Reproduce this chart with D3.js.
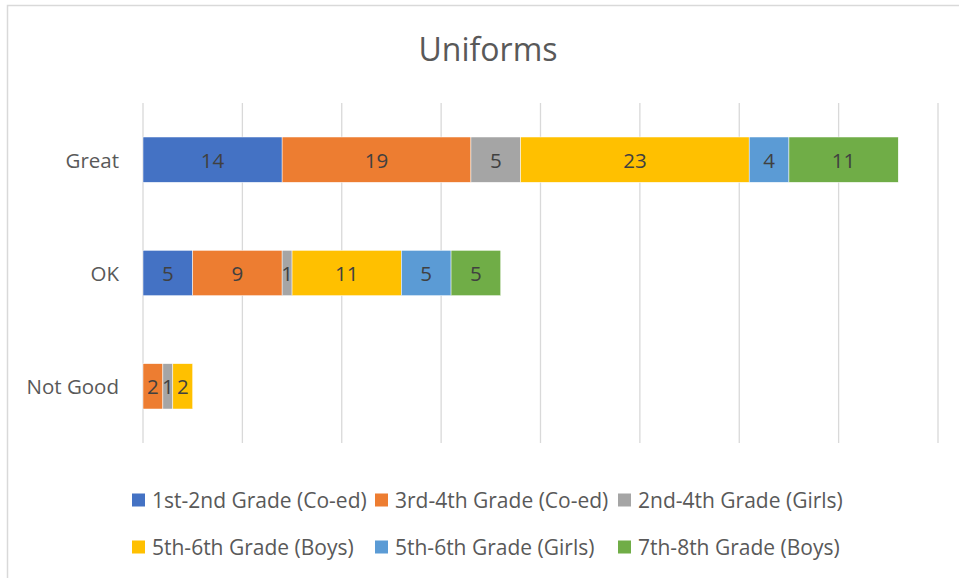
<!DOCTYPE html>
<html>
<head>
<meta charset="utf-8">
<script src="https://d3js.org/d3.v7.min.js"></script>
<style>
  body { margin: 0; background: #fff; }
  text { font-family: "Open Sans", "DejaVu Sans", sans-serif; }
</style>
</head>
<body>
<div id="chart"></div>
<script>
// chart data
var categories = ["Great", "OK", "Not Good"]
var seriesNames = ["1st-2nd Grade (Co-ed)", "3rd-4th Grade (Co-ed)", "2nd-4th Grade (Girls)",
  "5th-6th Grade (Boys)", "5th-6th Grade (Girls)", "7th-8th Grade (Boys)"]
var coed12 = [14, 5, 0]
var coed34 = [19, 9, 2]
var girls24 = [5, 1, 1]
var boys56 = [23, 11, 2]
var girls56 = [4, 5, 0]
var boys78 = [11, 5, 0]
var xTicks = [0, 10, 20, 30, 40, 50, 60, 70, 80]
var colors = ["#4472C4", "#ED7D31", "#A5A5A5", "#FFC000", "#5B9BD5", "#70AD47"]

var width = 959
var height = 578

var svg = d3.select("#chart")
    .append("svg")
    .attr("width", width)
    .attr("height", height)

// chart border
svg.append("rect")
    .attr("x", 7.5).attr("y", 5.5)
    .attr("width", 1000).attr("height", 600)
    .style("fill", "none").style("stroke", "#d9d9d9").style("stroke-width", 1.5)

svg.append("text")
    .attr("x", 488).attr("y", 61)
    .attr("text-anchor", "middle")
    .style("font-size", "32px").style("fill", "#595959")
    .text("Uniforms")

var rows = categories.map(function (c, i) {
    return { cat: c, s0: coed12[i], s1: coed34[i], s2: girls24[i], s3: boys56[i], s4: girls56[i], s5: boys78[i] }
})
var keys = ["s0", "s1", "s2", "s3", "s4", "s5"]
var stacked = d3.stack().keys(keys)(rows)

var x = d3.scaleLinear().domain([0, 80]).range([143, 938])
var y = d3.scaleBand().domain(categories).range([103, 443]).paddingInner(0.6).paddingOuter(0.3)

// gridlines
svg.append("g").selectAll("line")
    .data(xTicks)
    .enter().append("line")
    .attr("x1", function (d) { return x(d) }).attr("x2", function (d) { return x(d) })
    .attr("y1", 103).attr("y2", 443)
    .style("stroke", "#d9d9d9").style("stroke-width", 1.3)

// category labels
svg.append("g").selectAll("text")
    .data(categories)
    .enter().append("text")
    .attr("x", 119)
    .attr("y", function (d) { return y(d) + y.bandwidth() / 2 })
    .attr("text-anchor", "end").attr("dominant-baseline", "central")
    .style("font-size", "20.5px").style("fill", "#595959")
    .text(function (d) { return d })

var groups = svg.append("g").selectAll("g")
    .data(stacked)
    .enter().append("g")
    .style("fill", function (d, i) { return colors[i] })

groups.selectAll("rect")
    .data(function (d) { return d })
    .enter().append("rect")
    .attr("x", function (d) { return x(d[0]) })
    .attr("y", function (d) { return y(d.data.cat) })
    .attr("width", function (d) { return x(d[1]) - x(d[0]) })
    .attr("height", y.bandwidth())
    .style("stroke", "#fff").style("stroke-width", 0.5)

// value labels
groups.selectAll("text")
    .data(function (d) { return d.filter(function (p) { return p[1] - p[0] > 0 }) })
    .enter().append("text")
    .attr("x", function (d) { return (x(d[0]) + x(d[1])) / 2 })
    .attr("y", function (d) { return y(d.data.cat) + y.bandwidth() / 2 })
    .attr("text-anchor", "middle").attr("dominant-baseline", "central")
    .style("font-size", "20.5px").style("fill", "#404040")
    .text(function (d) { return d[1] - d[0] })

// legend
var legendPos = [[132, 500], [375, 500], [618, 500], [132, 547], [375, 547], [618, 547]]
var legend = svg.append("g").selectAll("g")
    .data(seriesNames)
    .enter().append("g")
    .attr("transform", function (d, i) { return "translate(" + legendPos[i][0] + "," + legendPos[i][1] + ")" })
legend.append("rect")
    .attr("x", 0).attr("y", -6.5).attr("width", 13).attr("height", 13)
    .style("fill", function (d, i) { return colors[i] })
legend.append("text")
    .attr("x", 20).attr("y", 0)
    .attr("dominant-baseline", "central")
    .style("font-size", "21px").style("fill", "#595959")
    .text(function (d) { return d })
</script>
</body>
</html>
